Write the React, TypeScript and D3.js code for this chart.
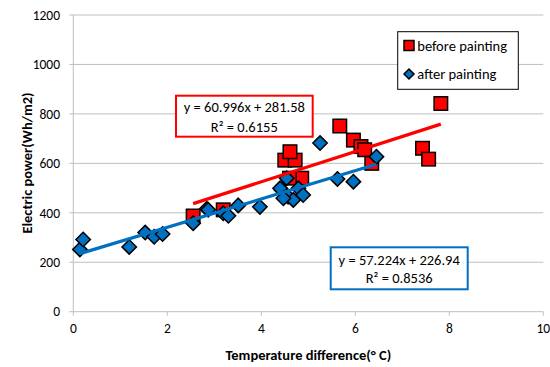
import React from "react";
import * as d3 from "d3";

const beforeX = [2.55, 3.19, 4.5, 4.72, 4.61, 4.86, 4.6, 5.67, 5.96, 6.12, 6.2, 6.35, 7.43, 7.56, 7.82];
const beforeY = [387, 412, 613, 613, 647, 540, 540, 751, 694, 668, 655, 600, 661, 617, 842];

const afterX = [0.14, 0.21, 1.19, 1.53, 1.72, 1.9, 2.55, 2.84, 2.87, 3.19, 3.3, 3.51, 3.97, 4.43, 4.54, 4.4, 4.79, 4.89, 4.57, 4.68, 4.47, 5.25, 5.62, 5.96, 6.45];
const afterY = [252, 292, 262, 320, 303, 314, 358, 416, 412, 398, 388, 430, 424, 492, 540, 499, 499, 472, 465, 452, 459, 682, 537, 526, 627];

const xTicks = [0, 2, 4, 6, 8, 10];
const yTicks = [0, 200, 400, 600, 800, 1000, 1200];

const redFit = { slope: 60.996, intercept: 281.58, label: "y = 60.996x + 281.58", r2: "R² = 0.6155" };
const blueFit = { slope: 57.224, intercept: 226.94, label: "y = 57.224x + 226.94", r2: "R² = 0.8536" };

const RED = "#FF0000";
const BLUE = "#0070C0";
const FONT = "Carlito, Lato, 'Liberation Sans', sans-serif";

export default function App() {
  const W = 550, H = 367;
  const x = d3.scaleLinear().domain([0, 10]).range([73.3, 543.3]);
  const y = d3.scaleLinear().domain([0, 1200]).range([311.7, 15]);

  const before = beforeX.map((v, i) => [v, beforeY[i]]);
  const after = afterX.map((v, i) => [v, afterY[i]]);

  const line = d3.line<number>().x((d) => x(d[0])).y((d) => y(d[1]));
  const rMin = d3.min(beforeX)!, rMax = d3.max(beforeX)!;
  const bMin = d3.min(afterX)!, bMax = d3.max(afterX)!;
  const redLine = line([[rMin, redFit.slope * rMin + redFit.intercept], [rMax, redFit.slope * rMax + redFit.intercept]] as any);
  const blueLine = line([[bMin, blueFit.slope * bMin + blueFit.intercept], [bMax, blueFit.slope * bMax + blueFit.intercept]] as any);

  const sq = 13.5;
  const dm = 7.2;
  const diamond = (cx: number, cy: number) => `M${cx},${cy - dm}L${cx + dm},${cy}L${cx},${cy + dm}L${cx - dm},${cy}Z`;

  return (
    <svg width={W} height={H} style={{ position: "absolute", left: 0, top: 0, fontFamily: FONT }}>
      <rect width={W} height={H} fill="#fff" />
      {yTicks.map((t) => (
        <g key={"y" + t}>
          <line x1={x(0) - 4} x2={x(10)} y1={y(t)} y2={y(t)} stroke="#bfbfbf" strokeWidth={1} />
          <text x={60} y={y(t)} dy="0.35em" textAnchor="end" fontSize={13.5} fill="#000">{t}</text>
        </g>
      ))}
      <line x1={x(0)} x2={x(0)} y1={y(1200)} y2={y(0)} stroke="#bfbfbf" strokeWidth={1} />
      {xTicks.map((t) => (
        <g key={"x" + t}>
          <line x1={x(t)} x2={x(t)} y1={y(0)} y2={y(0) + 4} stroke="#bfbfbf" strokeWidth={1} />
          <text x={x(t)} y={328} dy="0.35em" textAnchor="middle" fontSize={13.5} fill="#000">{t}</text>
        </g>
      ))}
      {before.map((d, i) => (
        <rect key={"b" + i} x={x(d[0]) - sq / 2} y={y(d[1]) - sq / 2} width={sq} height={sq} fill={RED} stroke="#000" strokeWidth={1.5} />
      ))}
      {after.map((d, i) => (
        <path key={"a" + i} d={diamond(x(d[0]), y(d[1]))} fill={BLUE} stroke="#000" strokeWidth={1.5} />
      ))}
      <path d={redLine!} stroke={RED} strokeWidth={3.2} fill="none" />
      <path d={blueLine!} stroke={BLUE} strokeWidth={3.2} fill="none" />

      <rect x={176} y={95.7} width={136.7} height={41} fill="#fff" stroke={RED} strokeWidth={2} />
      <text x={244.3} y={107.3} dy="0.35em" textAnchor="middle" fontSize={14.5}>{redFit.label}</text>
      <text x={244.3} y={126.7} dy="0.35em" textAnchor="middle" fontSize={14.5}>{redFit.r2}</text>

      <rect x={330.7} y={247.3} width={137} height={42} fill="#fff" stroke={BLUE} strokeWidth={2} />
      <text x={399.2} y={260} dy="0.35em" textAnchor="middle" fontSize={14.5}>{blueFit.label}</text>
      <text x={399.2} y={278.3} dy="0.35em" textAnchor="middle" fontSize={14.5}>{blueFit.r2}</text>

      <rect x={397.7} y={31.7} width={120.6} height={57.6} fill="#fff" stroke="#000" strokeWidth={1} />
      <rect x={404} y={40.5} width={10} height={10} fill={RED} stroke="#000" strokeWidth={1.5} />
      <text x={417.3} y={45.7} dy="0.35em" fontSize={14.5}>before painting</text>
      <path d={`M409,69L414,74L409,79L404,74Z`} fill={BLUE} stroke="#000" strokeWidth={1.5} />
      <text x={417.3} y={74} dy="0.35em" fontSize={14.5}>after painting</text>

      <text x={308.3} y={355} dy="0.35em" textAnchor="middle" fontSize={14.5} fontWeight="bold">Temperature difference(° C)</text>
      <text transform={`translate(27,163) rotate(-90)`} dy="0.35em" textAnchor="middle" fontSize={14.5} fontWeight="bold">Electric power(Wh/m2)</text>
    </svg>
  );
}
